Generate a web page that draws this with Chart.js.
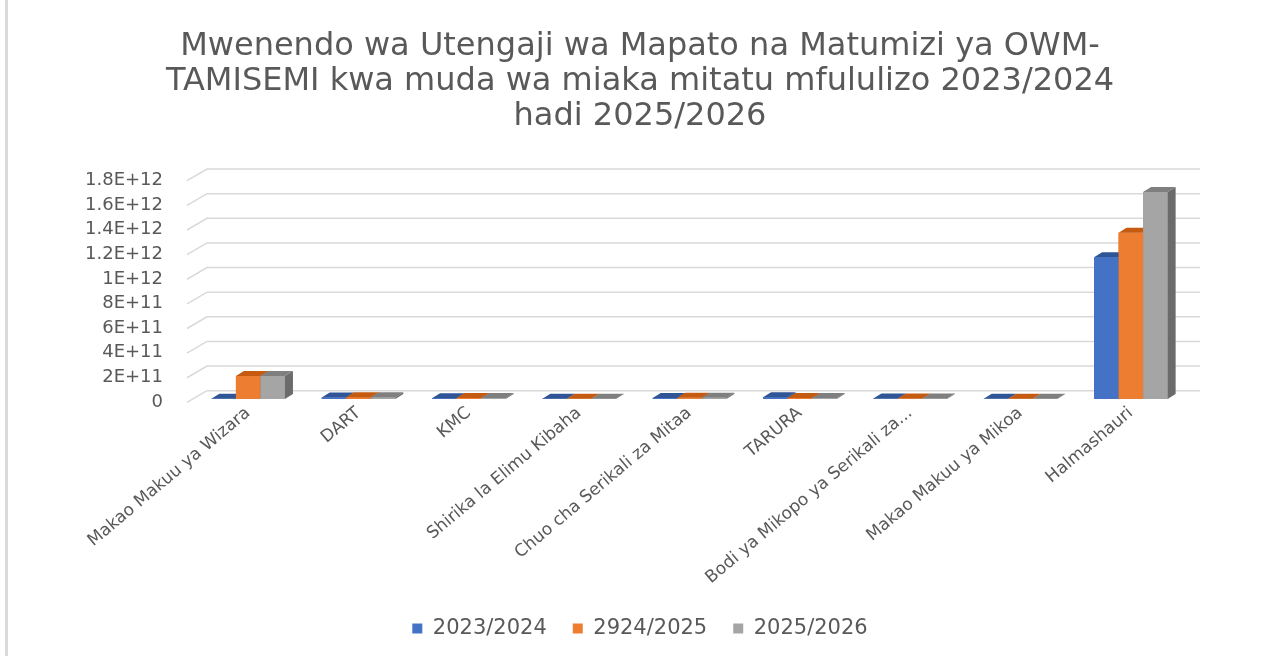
<!DOCTYPE html>
<html>
<head>
<meta charset="utf-8">
<script src="https://cdn.jsdelivr.net/npm/chart.js@4.4.1/dist/chart.umd.min.js"></script>
<style>
  html, body { margin: 0; padding: 0; background: #fff; overflow: hidden; }
  #wrap { position: relative; width: 1265px; height: 680px; }
</style>
</head>
<body>
<div id="wrap"><canvas id="myChart"></canvas></div>
<script>
const categories = [
  'Makao Makuu ya Wizara', 'DART', 'KMC', 'Shirika la Elimu Kibaha',
  'Chuo cha Serikali za Mitaa', 'TARURA', 'Bodi ya Mikopo ya Serikali za...',
  'Makao Makuu ya Mikoa', 'Halmashauri'
];
const seriesNames = ['2023/2024', '2924/2025', '2025/2026'];
const values2023 = [2e9, 1.2e10, 6e9, 3e9, 9e9, 1.5e10, 4e9, 2e9, 1.15e12];
const values2024 = [1.86e11, 1.5e10, 8e9, 3e9, 1e10, 9e9, 5e9, 3e9, 1.35e12];
const values2025 = [1.87e11, 1.4e10, 8e9, 3e9, 1e10, 9e9, 5e9, 3e9, 1.68e12];
const yTickLabels = ['0', '2E+11', '4E+11', '6E+11', '8E+11', '1E+12', '1.2E+12', '1.4E+12', '1.6E+12', '1.8E+12'];

const frontColors = ['#4472C4', '#ED7D31', '#A5A5A5'];
const topColors = ['#2F5597', '#C55A11', '#7F7F7F'];
const sideColors = ['#2A4D8A', '#A84C0E', '#6B6B6B'];
const textGrey = '#595959';
const font = 'DejaVu Sans';

// 3d depth of bars and of the back wall
const barDx = 8, barDy = -5;

const wallPlugin = {
  id: 'wall',
  beforeDraw(chart) {
    const ctx = chart.ctx;
    ctx.save();
    ctx.fillStyle = '#fff';
    ctx.fillRect(0, 0, chart.width, chart.height);
    ctx.fillStyle = '#d9d9d9';
    ctx.fillRect(5, 0, 3, chart.height);
    ctx.restore();
  },
  beforeDatasetsDraw(chart) {
    const ctx = chart.ctx;
    const ys = chart.scales.y;
    const area = chart.chartArea;
    ctx.save();
    ctx.strokeStyle = '#d9d9d9';
    ctx.lineWidth = 1.5;
    ys.ticks.forEach(t => {
      const py = ys.getPixelForValue(t.value);
      ctx.beginPath();
      ctx.moveTo(area.left - 6, py + 3.4);
      ctx.lineTo(area.left + 14, py - 8.3);
      ctx.lineTo(area.right + 14, py - 8.3);
      ctx.stroke();
    });
    ctx.restore();
  },
  afterDatasetsDraw(chart) {
    const ctx = chart.ctx;
    const metas = chart.data.datasets.map((d, i) => chart.getDatasetMeta(i));
    ctx.save();
    for (let j = 0; j < categories.length; j++) {
      metas.forEach((meta, i) => {
        const bar = meta.data[j];
        const p = bar.getProps(['x', 'y', 'base', 'width'], true);
        const l = p.x - p.width / 2, r = p.x + p.width / 2;
        ctx.fillStyle = frontColors[i];
        ctx.fillRect(l, p.y, p.width, p.base - p.y);
        ctx.fillStyle = topColors[i];
        ctx.beginPath();
        ctx.moveTo(l, p.y);
        ctx.lineTo(l + barDx, p.y + barDy);
        ctx.lineTo(r + barDx, p.y + barDy);
        ctx.lineTo(r, p.y);
        ctx.closePath();
        ctx.fill();
        ctx.fillStyle = sideColors[i];
        ctx.beginPath();
        ctx.moveTo(r, p.y);
        ctx.lineTo(r + barDx, p.y + barDy);
        ctx.lineTo(r + barDx, p.base + barDy);
        ctx.lineTo(r, p.base);
        ctx.closePath();
        ctx.fill();
      });
    }
    ctx.restore();
  }
};

const ctx = document.getElementById('myChart');

new Chart(ctx, {
  type: 'bar',
  data: {
    labels: categories,
    datasets: [
      { label: seriesNames[0], data: values2023, backgroundColor: frontColors[0] },
      { label: seriesNames[1], data: values2024, backgroundColor: frontColors[1] },
      { label: seriesNames[2], data: values2025, backgroundColor: frontColors[2] }
    ]
  },
  options: {
    responsive: true,
    maintainAspectRatio: false,
    animation: false,
    categoryPercentage: 0.667,
    barPercentage: 1.0,
    layout: { padding: { left: 15, right: 0, top: 0, bottom: 31 } },
    plugins: {
      title: {
        display: true,
        text: ['Mwenendo wa Utengaji wa Mapato na Matumizi ya OWM-',
               'TAMISEMI kwa muda wa miaka mitatu mfululizo 2023/2024',
               'hadi 2025/2026'],
        color: textGrey,
        font: { family: font, size: 32, weight: 'normal', lineHeight: 1.094 },
        padding: { top: 29.5, bottom: 42.8 }
      },
      legend: {
        position: 'bottom',
        labels: {
          color: textGrey,
          font: { family: font, size: 21 },
          boxWidth: 10,
          boxHeight: 10,
          padding: 26
        }
      },
      tooltip: { enabled: false }
    },
    scales: {
      x: {
        grid: { display: false, drawTicks: false },
        border: { display: false },
        ticks: {
          color: textGrey,
          font: { family: font, size: 17 },
          autoSkip: false,
          minRotation: 40,
          maxRotation: 40,
          padding: 4
        },
        afterFit(scale) { scale.height = 193; }
      },
      y: {
        min: 0,
        max: 1.8e12,
        grid: { display: false, drawTicks: false },
        border: { display: false },
        ticks: {
          stepSize: 2e11,
          autoSkip: false,
          color: textGrey,
          font: { family: font, size: 18 },
          padding: 30,
          labelOffset: 3,
          callback: (v, i) => yTickLabels[i]
        },
        afterFit(scale) { scale.width = 178; }
      },
      // empty right axis, only keeps space on the right of the plot
      y2: {
        position: 'right',
        grid: { display: false, drawTicks: false },
        border: { display: false },
        ticks: { display: false },
        afterFit(scale) { scale.width = 79; }
      }
    }
  },
  plugins: [wallPlugin]
});
</script>
</body>
</html>
